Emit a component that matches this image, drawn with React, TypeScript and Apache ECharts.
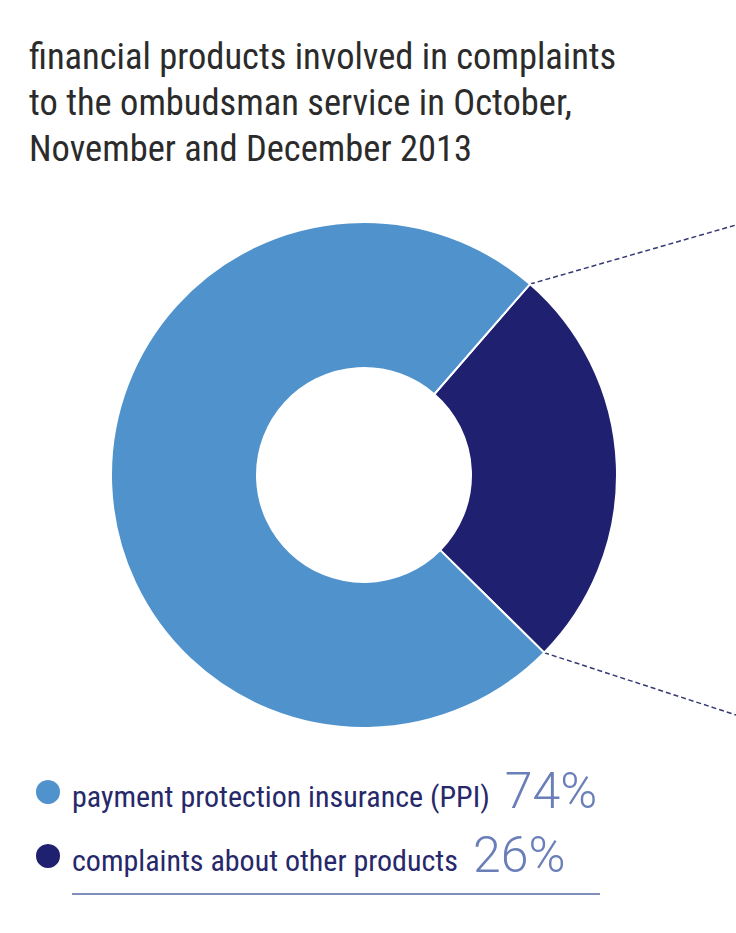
import React, { useEffect, useRef } from "react";
import * as echarts from "echarts";

const titleLines = [
  "financial products involved in complaints",
  "to the ombudsman service in October,",
  "November and December 2013",
];
const categories = ["complaints about other products", "payment protection insurance (PPI)"];
const values = [26, 74];
const colors = ["#1f2170", "#4f92cc"];
const legendOrder = ["payment protection insurance (PPI)", "complaints about other products"];

const FONT = "'Liberation Sans Narrow', 'Roboto Condensed', Roboto, sans-serif";
const NUMFONT = "Roboto, 'Noto Sans', sans-serif";

export default function App() {
  const ref = useRef<HTMLDivElement>(null);
  useEffect(() => {
    document.body.style.margin = "0";
    if (!ref.current) return;
    const chart = echarts.init(ref.current, undefined, { renderer: "svg" });
    const W = 736;
    const cx = 364;
    const cy = 475;
    const rOuter = 253;
    const rInner = 107;
    const startAngle = 49;
    const total = values.reduce((a, b) => a + b, 0);
    const a1 = (startAngle * Math.PI) / 180;
    const a2 = ((startAngle - (values[0] / total) * 360) * Math.PI) / 180;
    const p1 = [cx + rOuter * Math.cos(a1), cy - rOuter * Math.sin(a1)];
    const p2 = [cx + rOuter * Math.cos(a2), cy - rOuter * Math.sin(a2)];
    const pct = (name: string) => values[categories.indexOf(name)];

    chart.setOption({
      animation: false,
      title: {
        text: titleLines.join("\n"),
        left: 29,
        top: 33,
        padding: 0,
        textStyle: {
          fontFamily: FONT,
          fontSize: 36.5,
          lineHeight: 46,
          fontWeight: "normal",
          color: "#2b2b2b",
        },
      },
      legend: {
        orient: "vertical",
        left: 34,
        top: 766,
        padding: 0,
        itemWidth: 26,
        itemHeight: 26,
        itemGap: 14,
        icon: "circle",
        data: legendOrder,
        formatter: (name: string) => `{n|${name}}{v|${pct(name)}%}`,
        textStyle: {
          rich: {
            n: {
              fontFamily: FONT,
              fontSize: 30,
              color: "#26286a",
              verticalAlign: "bottom",
              lineHeight: 40,
              padding: [0, 15, 5, 6],
            },
            v: {
              fontFamily: NUMFONT,
              fontSize: 50,
              fontWeight: 300,
              color: "#6a7eb8",
              verticalAlign: "bottom",
              lineHeight: 48,
            },
          },
        },
      },
      series: [
        {
          type: "pie",
          center: [cx, cy],
          radius: [rInner, rOuter],
          startAngle,
          clockwise: true,
          label: { show: false },
          labelLine: { show: false },
          itemStyle: { borderColor: "#ffffff", borderWidth: 2 },
          emphasis: { disabled: true },
          data: categories.map((c, i) => ({
            name: c,
            value: values[i],
            itemStyle: { color: colors[i] },
          })),
        },
      ],
      graphic: [
        {
          type: "line",
          shape: { x1: p1[0], y1: p1[1], x2: W, y2: 225 },
          style: { stroke: "#363a74", lineWidth: 1.5, lineDash: [5, 3] },
        },
        {
          type: "line",
          shape: { x1: p2[0], y1: p2[1], x2: W, y2: 715 },
          style: { stroke: "#363a74", lineWidth: 1.5, lineDash: [5, 3] },
        },
        {
          type: "line",
          shape: { x1: 72, y1: 894, x2: 600, y2: 894 },
          style: { stroke: "#7f8fb8", lineWidth: 2 },
        },
      ],
    });
    return () => chart.dispose();
  }, []);
  return <div ref={ref} style={{ width: 736, height: 933 }} />;
}
